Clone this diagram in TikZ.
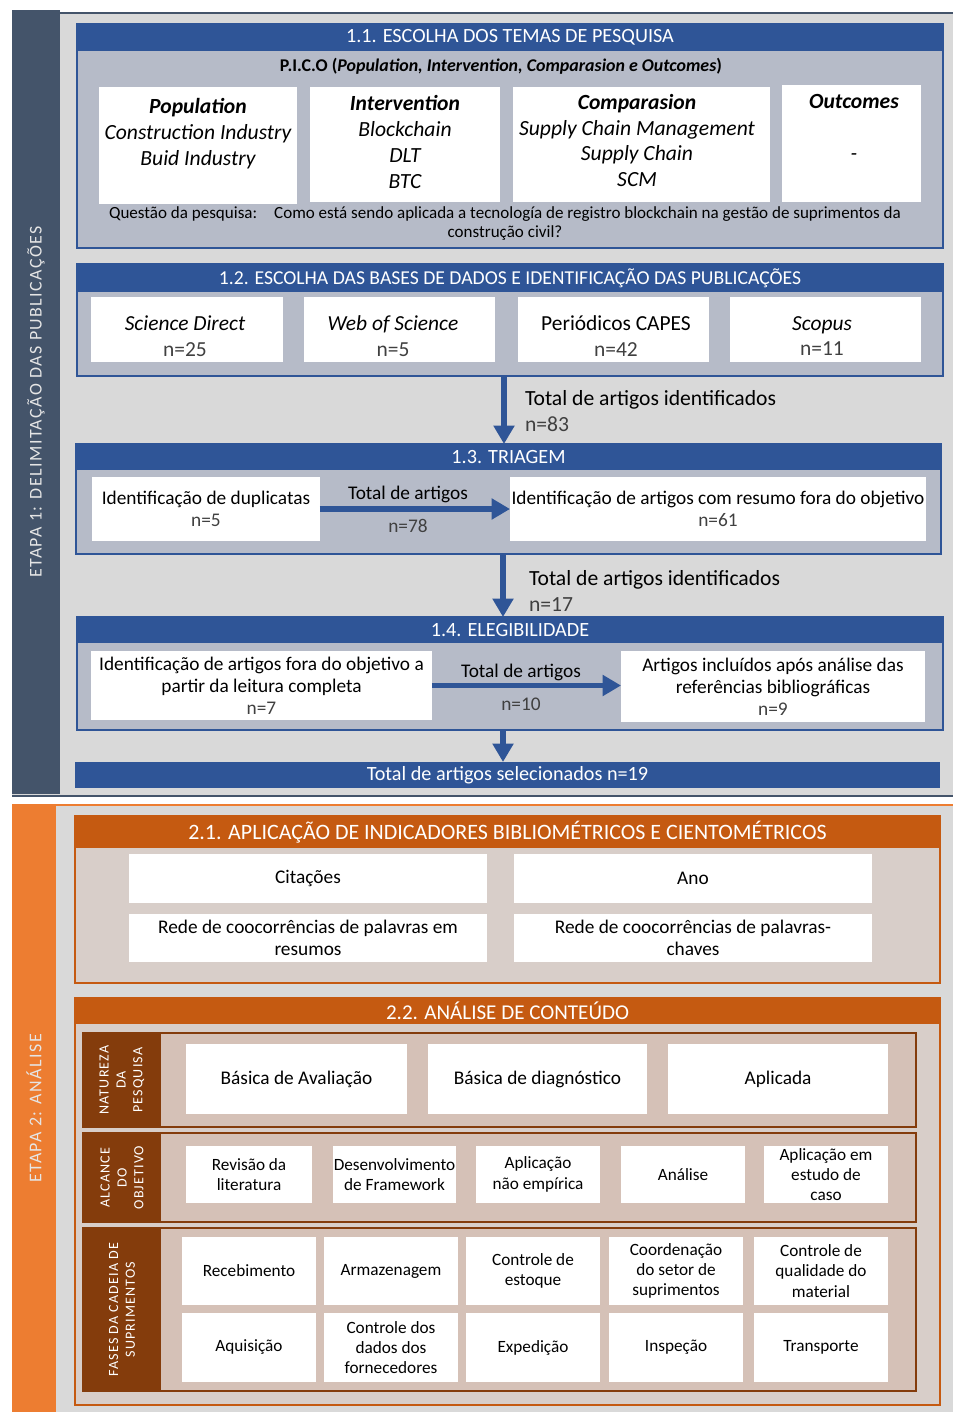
\documentclass[tikz,border=0pt]{standalone}
\usepackage{fontspec}
\setmainfont{Carlito}
\newfontfamily\spacedfont[LetterSpace=8]{Carlito}
\usetikzlibrary{arrows.meta}

\definecolor{slate}{HTML}{44546A}
\definecolor{bluehead}{HTML}{2F5597}
\definecolor{bluebody}{RGB}{182,187,200}
\definecolor{graybg}{HTML}{D9D9D9}
\definecolor{orangeband}{HTML}{ED7D31}
\definecolor{orangehead}{HTML}{C55A11}
\definecolor{orangebody}{RGB}{216,206,201}
\definecolor{brownside}{HTML}{843C0C}
\definecolor{brownbody}{RGB}{213,193,183}
\definecolor{ntext}{RGB}{64,64,64}

\begin{document}
\begin{tikzpicture}[x=0.02cm, y=-0.02cm,
	every node/.style={inner sep=0pt, outer sep=0pt},
	panel/.style={draw=bluehead, line width=1pt, fill=bluebody},
	opanel/.style={draw=orangehead, line width=1pt, fill=orangebody},
	bpanel/.style={draw=brownside, line width=1pt, fill=brownbody},
	headbar/.style={fill=bluehead, text=white, font=\fontsize{11.5}{13}\selectfont},
	ohead/.style={fill=orangehead, text=white, font=\fontsize{12.5}{14}\selectfont},
	sideband/.style={text=white!90!black, font=\spacedfont\fontsize{10.2}{12}\selectfont},
	bside/.style={fill=brownside, text=white, align=center, font=\spacedfont\fontsize{8}{9.6}\selectfont},
	wbox/.style={fill=white, align=center, font=\fontsize{11}{12.5}\selectfont},
	picotext/.style={align=center, font=\itshape\fontsize{12.3}{14.7}\selectfont},
	dbtext/.style={align=center, font=\fontsize{12.2}{14.7}\selectfont},
	cbox/.style={fill=white, align=center, font=\fontsize{11}{12.5}\selectfont},
	sbox/.style={fill=white, align=center, font=\fontsize{9.8}{11.6}\selectfont},
	totlabel/.style={font=\fontsize{12.3}{14.7}\selectfont},
	arrlabel/.style={font=\fontsize{11}{13}\selectfont},
	bigarrow/.style={draw=bluehead, line width=3pt, -{Triangle[width=11.5pt,length=10.5pt]}},
]
\useasboundingbox (0,0) rectangle (953,1412);
\fill[white] (0,0) rectangle (953,1412);

% ETAPA 1
\fill[graybg] (12,13) rectangle (953,797);
\draw[slate, line width=1pt] (12,13) -- (953,13);
\draw[slate, line width=1.2pt] (12,796) -- (953,796);
\node[sideband, fill=slate, minimum width=15.68cm, minimum height=0.96cm, rotate=90] (etapa1) at (36,402) {ETAPA 1: DELIMITAÇÃO DAS PUBLICAÇÕES};

% 1.1
\node[panel, minimum width=17.32cm, minimum height=4.48cm] (b11) at (510,136) {};
\node[headbar, minimum width=17.32cm, minimum height=0.54cm] (h11) at (510,37.5) {1.1. ESCOLHA DOS TEMAS DE PESQUISA};
\node[font=\bfseries\fontsize{10.2}{11}\selectfont] (pico) at (501,66) {P.I.C.O (\textit{Population, Intervention, Comparasion e Outcomes})};
\node[wbox, minimum width=3.96cm, minimum height=2.34cm] (pop) at (198,145.5) {};
\node[wbox, minimum width=3.8cm, minimum height=2.3cm] (interv) at (405,144.5) {};
\node[wbox, minimum width=5.14cm, minimum height=2.3cm] (compar) at (641.5,144.5) {};
\node[wbox, minimum width=2.78cm, minimum height=2.34cm] (outc) at (851.5,143.5) {};
\node[picotext] (popt) at (198,133.5) {\textbf{Population}\\Construction Industry\\Buid Industry};
\node[picotext] (intervt) at (405,142) {\textbf{Intervention}\\Blockchain\\DLT\\BTC};
\node[picotext] (compart) at (637,140.5) {\textbf{Comparasion}\\Supply Chain Management\\Supply Chain\\SCM};
\node[picotext] (outct) at (854,127.5) {\textbf{Outcomes}\\[14.7pt]-};
\node[align=center, font=\fontsize{9.7}{10.8}\selectfont] (quest) at (505,223.5)
	{Questão da pesquisa:\hspace{1em}Como está sendo aplicada a tecnología de registro blockchain na gestão de suprimentos da\\construção civil?};

% 1.2
\node[panel, minimum width=17.32cm, minimum height=2.24cm] (b12) at (510,320) {};
\node[headbar, font=\fontsize{11.2}{13}\selectfont, minimum width=17.32cm, minimum height=0.56cm] (h12) at (510,278) {1.2. ESCOLHA DAS BASES DE DADOS E IDENTIFICAÇÃO DAS PUBLICAÇÕES};
\node[wbox, minimum width=3.84cm, minimum height=1.3cm] (sdirect) at (187,329.5) {};
\node[wbox, minimum width=3.82cm, minimum height=1.3cm] (wos) at (399.5,329.5) {};
\node[wbox, minimum width=3.82cm, minimum height=1.3cm] (capes) at (613.5,329.5) {};
\node[wbox, minimum width=3.82cm, minimum height=1.3cm] (scopus) at (825.5,329.5) {};
\node[dbtext] (sdirectt) at (185,336) {\textit{Science Direct}\\{\color{ntext}n=25}};
\node[dbtext] (wost) at (393,336) {\textit{Web of Science}\\{\color{ntext}n=5}};
\node[dbtext] (capest) at (616,336) {Periódicos CAPES\\{\color{ntext}n=42}};
\node[dbtext] (scopust) at (822,336) {\textit{Scopus}\\{\color{ntext}n=11}};

% 1.3
\node[panel, minimum width=17.3cm, minimum height=2.2cm] (b13) at (508.5,499) {};
\node[headbar, minimum width=17.3cm, minimum height=0.52cm] (h13) at (508.5,457) {1.3. TRIAGEM};
\node[wbox, minimum width=4.56cm, minimum height=1.28cm] (dup) at (206,509) {Identificação de duplicatas\\{\color{ntext}n=5}};
\node[wbox, minimum width=8.32cm, minimum height=1.28cm] (resumo) at (718,509) {Identificação de artigos com resumo fora do objetivo\\{\color{ntext}n=61}};
\draw[bigarrow] (dup) -- (resumo);
\node[arrlabel] (tot13) at (408,494) {Total de artigos};
\node[arrlabel, text=ntext] (n13) at (408,526) {n=78};

\coordinate (ax1) at (504,0);
\draw[bigarrow] (b12.south -| ax1) -- (h13.north -| ax1);
\node[totlabel, align=left, anchor=west] (tot12) at (525,411) {Total de artigos identificados\\{\color{ntext}n=83}};

% 1.4
\node[panel, minimum width=17.32cm, minimum height=2.26cm] (b14) at (510,673.5) {};
\node[headbar, minimum width=17.32cm, minimum height=0.52cm] (h14) at (510,630) {1.4. ELEGIBILIDADE};
\node[wbox, minimum width=6.82cm, minimum height=1.38cm] (fora) at (261.5,685.5) {Identificação de artigos fora do objetivo a\\partir da leitura completa\\{\color{ntext}n=7}};
\node[wbox, minimum width=6.08cm, minimum height=1.42cm] (incl) at (773,686.5) {Artigos incluídos após análise das\\referências bibliográficas\\{\color{ntext}n=9}};
\draw[bigarrow] (fora.east) -- (fora.east -| incl.west);
\node[arrlabel] (tot14) at (521,672) {Total de artigos};
\node[arrlabel, text=ntext] (n14) at (521,704) {n=10};

\coordinate (ax2) at (503,0);
\draw[bigarrow] (b13.south -| ax2) -- (h14.north -| ax2);
\node[totlabel, align=left, anchor=west] (tot13b) at (529,591) {Total de artigos identificados\\{\color{ntext}n=17}};

% total
\node[headbar, minimum width=17.3cm, minimum height=0.52cm] (total) at (507.5,775) {Total de artigos selecionados n=19};
\coordinate (ax3) at (503,0);
\draw[bigarrow] (b14.south -| ax3) -- (total.north -| ax3);

% ETAPA 2
\fill[graybg] (12,805) rectangle (953,1412);
\draw[orangeband, line width=1.5pt] (12,805) -- (953,805);
\node[sideband, fill=orangeband, minimum width=12.14cm, minimum height=0.88cm, rotate=90] (etapa2) at (34,1108.5) {ETAPA 2: ANÁLISE};

% 2.1
\node[opanel, minimum width=17.3cm, minimum height=3.34cm] (b21) at (507.5,899.5) {};
\node[ohead, minimum width=17.3cm, minimum height=0.64cm] (h21) at (507.5,832) {2.1. APLICAÇÃO DE INDICADORES BIBLIOMÉTRICOS E CIENTOMÉTRICOS};
\node[cbox, minimum width=7.16cm, minimum height=0.98cm] (citac) at (308,878.5) {Citações};
\node[cbox, minimum width=7.16cm, minimum height=0.98cm] (ano) at (693,878.5) {Ano};
\node[cbox, minimum width=7.16cm, minimum height=0.96cm] (redres) at (308,938) {Rede de coocorrências de palavras em\\resumos};
\node[cbox, minimum width=7.16cm, minimum height=0.96cm] (redpal) at (693,938) {Rede de coocorrências de palavras-\\chaves};

% 2.2
\node[opanel, minimum width=17.3cm, minimum height=8.14cm] (b22) at (507.5,1201.5) {};
\node[ohead, font=\fontsize{12}{14}\selectfont, minimum width=17.3cm, minimum height=0.52cm] (h22) at (507.5,1011) {2.2. ANÁLISE DE CONTEÚDO};

\node[bpanel, minimum width=16.66cm, minimum height=1.88cm] (natur) at (499.5,1080) {};
\node[bside, minimum width=1.88cm, minimum height=1.56cm, rotate=90] (naturl) at (122,1080) {NATUREZA\\DA\\PESQUISA};
\node[cbox, minimum width=4.42cm, minimum height=1.4cm] (basav) at (296.5,1079) {Básica de Avaliação};
\node[cbox, minimum width=4.38cm, minimum height=1.4cm] (basdiag) at (537.5,1079) {Básica de diagnóstico};
\node[cbox, minimum width=4.4cm, minimum height=1.4cm] (aplic) at (778,1079) {Aplicada};

\node[bpanel, minimum width=16.66cm, minimum height=1.78cm] (alcan) at (499.5,1177.5) {};
\node[bside, minimum width=1.78cm, minimum height=1.56cm, rotate=90] (alcanl) at (122,1177.5) {ALCANCE\\DO\\OBJETIVO};
\node[sbox, minimum width=2.52cm, minimum height=1.14cm] (revlit) at (249,1174.5) {Revisão da\\literatura};
\node[sbox, minimum width=2.46cm, minimum height=1.14cm] (desfw) at (394.5,1174.5) {Desenvolvimento\\de Framework};
\node[sbox, minimum width=2.48cm, minimum height=1.14cm] (naoemp) at (538,1174.5) {Aplicação\\não empírica};
\node[sbox, minimum width=2.48cm, minimum height=1.14cm] (analise) at (683,1174.5) {Análise};
\node[sbox, minimum width=2.48cm, minimum height=1.14cm] (estcaso) at (826,1174.5) {Aplicação em\\estudo de\\caso};

\node[bpanel, minimum width=16.66cm, minimum height=3.26cm] (fases) at (499.5,1309.5) {};
\node[bside, minimum width=3.26cm, minimum height=1.56cm, rotate=90] (fasesl) at (122,1309.5) {FASES DA CADEIA DE\\SUPRIMENTOS};
\node[sbox, minimum width=2.68cm, minimum height=1.36cm] (receb) at (249,1271) {Recebimento};
\node[sbox, minimum width=2.68cm, minimum height=1.36cm] (armaz) at (391,1271) {Armazenagem};
\node[sbox, minimum width=2.68cm, minimum height=1.36cm] (estoq) at (533,1271) {Controle de\\estoque};
\node[sbox, minimum width=2.68cm, minimum height=1.36cm] (coord) at (676,1271) {Coordenação\\do setor de\\suprimentos};
\node[sbox, minimum width=2.68cm, minimum height=1.36cm] (qualid) at (821,1271) {Controle de\\qualidade do\\material};
\node[sbox, minimum width=2.68cm, minimum height=1.38cm] (aquis) at (249,1347.5) {Aquisição};
\node[sbox, minimum width=2.68cm, minimum height=1.38cm] (fornec) at (391,1347.5) {Controle dos\\dados dos\\fornecedores};
\node[sbox, minimum width=2.68cm, minimum height=1.38cm] (exped) at (533,1347.5) {Expedição};
\node[sbox, minimum width=2.68cm, minimum height=1.38cm] (inspec) at (676,1347.5) {Inspeção};
\node[sbox, minimum width=2.68cm, minimum height=1.38cm] (transp) at (821,1347.5) {Transporte};
\end{tikzpicture}
\end{document}
